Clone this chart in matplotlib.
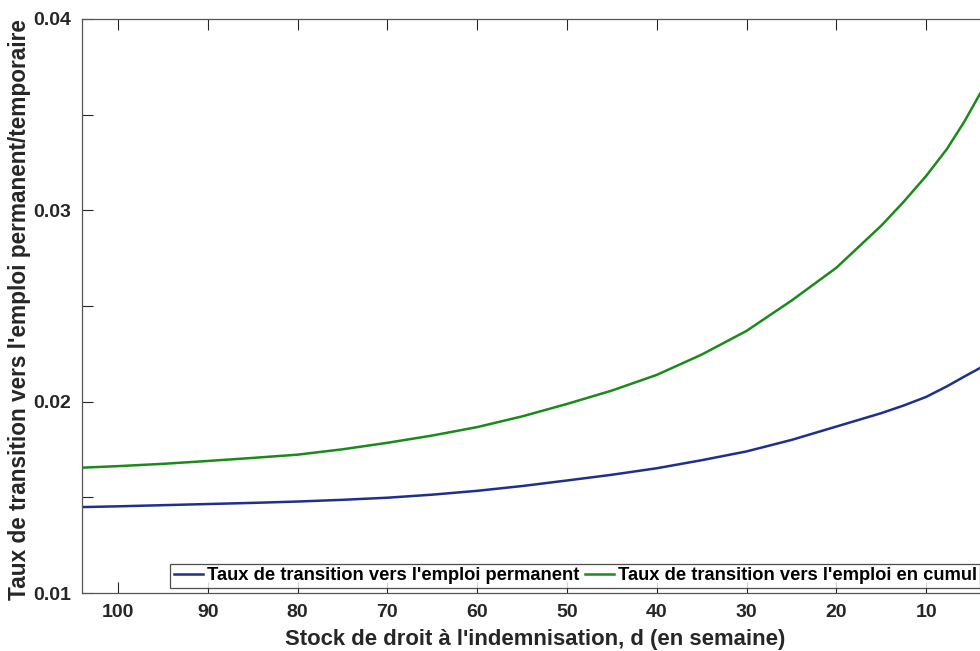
import numpy as np
import matplotlib
matplotlib.use('Agg')
import matplotlib.pyplot as plt

# Values
d_weeks = [104, 100, 95, 90, 85, 80, 75, 70, 65, 60, 55, 50, 45, 40, 35, 30,
           25, 20, 15, 12.5, 10, 7.7, 5.8, 4]
taux_permanent = [0.01449, 0.01453, 0.01459, 0.01465, 0.01471, 0.01478, 0.01487, 0.01498,
                  0.01514, 0.01534, 0.01559, 0.01588, 0.01618, 0.01652, 0.01694, 0.01740,
                  0.01800, 0.01870, 0.01940, 0.01980, 0.02025, 0.02080, 0.02130, 0.02176]
taux_cumul = [0.01655, 0.01663, 0.01675, 0.01690, 0.01706, 0.01723, 0.01751, 0.01785,
              0.01823, 0.01867, 0.01923, 0.01988, 0.02058, 0.02140, 0.02246, 0.02370,
              0.02528, 0.02700, 0.02920, 0.03045, 0.03180, 0.03320, 0.03460, 0.03610]
x_ticks = [100, 90, 80, 70, 60, 50, 40, 30, 20, 10]
y_ticks = [0.01, 0.015, 0.02, 0.025, 0.03, 0.035, 0.04]
y_labels = ['0.01', '', '0.02', '', '0.03', '', '0.04']

plt.rcParams['font.family'] = ['Liberation Sans', 'DejaVu Sans']
plt.rcParams['font.weight'] = 'bold'

fig = plt.figure(figsize=(9.8, 6.51), dpi=100)
ax = fig.add_axes([82 / 980, 58 / 651, 934 / 980, 574 / 651])

ax.plot(d_weeks, taux_permanent, color='#1f2f8f', lw=1.8, label="Taux de transition vers l'emploi permanent")
ax.plot(d_weeks, taux_cumul, color='#1a8a1a', lw=1.8, label="Taux de transition vers l'emploi en cumul")

ax.set_xlim(104, 0)
ax.set_ylim(0.01, 0.04)
ax.set_xticks(x_ticks)
ax.set_yticks(y_ticks)
ax.set_yticklabels(y_labels)
ax.tick_params(direction='in', length=8, width=0.8, top=True, right=True,
               labelsize=14, pad=8, colors='#262626')
for lab in ax.get_xticklabels() + ax.get_yticklabels():
    lab.set_fontweight('bold')
for sp in ax.spines.values():
    sp.set_color('#555555')
    sp.set_linewidth(0.9)

fig.text(20 / 980, 1 - 310 / 651, "Taux de transition vers l'emploi permanent/temporaire",
         rotation=90, ha='center', va='center', fontsize=16.3, fontweight='bold', color='#262626')
fig.text(535 / 980, 12 / 651, "Stock de droit à l'indemnisation, d (en semaine)",
         ha='center', va='center', fontsize=15.9, fontweight='bold', color='#262626')

leg = ax.legend(loc='lower left', bbox_to_anchor=(170 / 980, 63 / 651),
                bbox_transform=fig.transFigure, ncol=2, fontsize=13.2,
                frameon=True, fancybox=False, borderaxespad=0, borderpad=0.2,
                handlelength=1.6, handletextpad=0.2, columnspacing=0.3)
leg.get_frame().set_edgecolor('#222222')
leg.get_frame().set_linewidth(0.9)
for t in leg.get_texts():
    t.set_fontweight('bold')

fig.savefig('out.png', dpi=100)
